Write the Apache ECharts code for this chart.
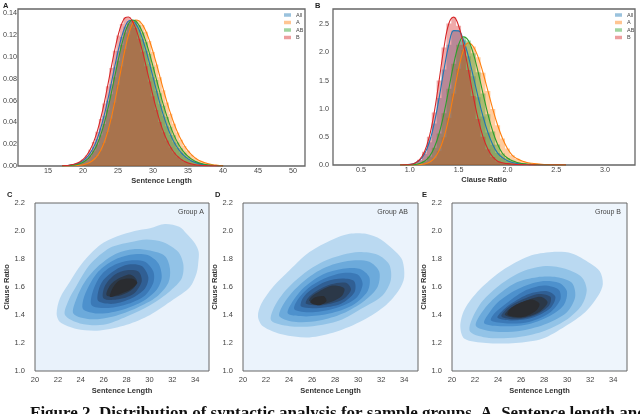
<!DOCTYPE html>
<html>
<head>
<meta charset="utf-8">
<script src="https://cdn.jsdelivr.net/npm/echarts@6/dist/echarts.min.js"></script>
<style>
    html, body { margin: 0; background: #fff; }
    #chart { width: 640px; height: 414px; }
</style>
</head>
<body>
<div id="chart"></div>
<script>
// groups and their colours
const groups = ['All', 'A', 'AB', 'B'];
const groupColors = ['#1f77b4', '#ff7f0e', '#2ca02c', '#d62728'];

// panel A: sentence length density (bin centres, step 0.5)
const lengthBins = [17, 17.5, 18, 18.5, 19, 19.5, 20, 20.5, 21, 21.5, 22, 22.5, 23, 23.5, 24, 24.5,
    25, 25.5, 26, 26.5, 27, 27.5, 28, 28.5, 29, 29.5, 30, 30.5, 31, 31.5, 32, 32.5, 33, 33.5,
    34, 34.5, 35, 35.5, 36, 36.5, 37, 37.5, 38, 38.5, 39, 39.5, 40];
const lengthAll = [.0002, .0004, .0007, .0011, .0018, .0030, .0049, .0077, .0117, .0172, .0247, .0344,
    .0461, .0599, .0750, .0906, .1055, .1183, .1278, .1331, .1337, .1308, .1249, .1163, .1057, .0938,
    .0813, .0687, .0567, .0460, .0365, .0285, .0218, .0165, .0123, .0090, .0065, .0046, .0032, .0022,
    .0015, .0010, .0007, .0005, .0003, .0002, .0001];
const lengthA = [0, .0001, .0001, .0002, .0004, .0007, .0012, .0021, .0035, .0057, .0091, .0142,
    .0213, .0312, .0435, .0582, .0745, .0914, .1073, .1206, .1298, .1339, .1331, .1294, .1231, .1146,
    .1045, .0932, .0813, .0694, .0582, .0480, .0388, .0308, .0240, .0184, .0139, .0103, .0075, .0054,
    .0038, .0027, .0018, .0012, .0008, .0005, .0003];
const lengthAB = [.0001, .0002, .0004, .0007, .0012, .0021, .0035, .0056, .0089, .0135, .0198, .0281,
    .0386, .0513, .0659, .0813, .0966, .1109, .1225, .1305, .1339, .1330, .1290, .1225, .1135, .1029,
    .0910, .0788, .0667, .0553, .0450, .0359, .0281, .0216, .0163, .0121, .0088, .0063, .0044, .0030,
    .0020, .0013, .0009, .0006, .0004, .0002, .0001];
const lengthB = [.0002, .0004, .0007, .0013, .0022, .0037, .0060, .0096, .0148, .0219, .0313, .0432,
    .0573, .0732, .0898, .1057, .1198, .1302, .1360, .1367, .1333, .1265, .1167, .1048, .0914, .0776,
    .0640, .0514, .0403, .0310, .0233, .0172, .0124, .0088, .0061, .0042, .0028, .0018, .0012, .0008,
    .0005, .0003, .0002, .0001, .0001, 0, 0];

// panel B: clause ratio density (bin centres, step 0.05)
const ratioBins = [0.90, 0.95, 1.00, 1.05, 1.10, 1.15, 1.20, 1.25, 1.30, 1.35, 1.40, 1.45, 1.50, 1.55,
    1.60, 1.65, 1.70, 1.75, 1.80, 1.85, 1.90, 1.95, 2.00, 2.05, 2.10, 2.15, 2.20, 2.25, 2.30, 2.35,
    2.40, 2.45, 2.50, 2.55, 2.60];
const ratioAll = [.001, .003, .011, .032, .084, .196, .404, .738, 1.189, 1.695, 2.137, 2.386, 2.382, 2.215,
    1.930, 1.574, 1.203, .861, .577, .361, .212, .130, .075, .045, .027, .016, .010, .006, .004, .002,
    .001, .001, 0, 0, 0];
const ratioA = [0, 0, .001, .002, .006, .018, .048, .118, .255, .491, .837, 1.271, 1.711, 2.044,
    2.170, 2.103, 1.915, 1.638, 1.316, .993, .705, .469, .293, .173, .110, .070, .045, .030, .020, .013,
    .008, .005, .003, .002, .001];
const ratioAB = [0, .001, .003, .009, .026, .066, .149, .305, .559, .917, 1.354, 1.797, 2.136, 2.278,
    2.209, 1.983, 1.648, 1.268, .903, .595, .363, .205, .125, .075, .045, .027, .016, .010, .006, .004,
    .002, .001, .001, 0, 0];
const ratioB = [0, .003, .010, .033, .095, .235, .503, .934, 1.499, 2.086, 2.512, 2.625, 2.472, 2.133,
    1.688, 1.226, .817, .500, .280, .144, .068, .040, .025, .016, .010, .006, .004, .002, .001, 0,
    0, 0, 0, 0, 0];

// panels C-E: density contour levels (outer -> inner), [sentence length, clause ratio]
const contourGroupA = [
    [[21.89, 1.41], [22.18, 1.35], [23.64, 1.30], [25.68, 1.29], [28.01, 1.33], [30.05, 1.40], [32.08, 1.51],
        [33.54, 1.60], [34.12, 1.70], [34.27, 1.78], [34.3, 1.85], [33.98, 1.91], [33.25, 1.98], [32.6, 2.03],
        [31.36, 2.05], [30.05, 2.02], [28.7, 2.0], [27.13, 1.96], [25.68, 1.90], [24.22, 1.78], [23.06, 1.64], [22.18, 1.52]],
    [[22.62, 1.40], [23.93, 1.34], [25.97, 1.33], [28.01, 1.39], [30.05, 1.47], [31.79, 1.57], [32.81, 1.66],
        [32.96, 1.76], [32.52, 1.85], [31.21, 1.92], [29.76, 1.94], [28.3, 1.92], [26.55, 1.88], [24.8, 1.76],
        [23.64, 1.61], [22.91, 1.50]],
    [[23.35, 1.41], [24.8, 1.37], [26.84, 1.39], [28.88, 1.45], [30.63, 1.53], [31.65, 1.63], [31.79, 1.73],
        [31.36, 1.82], [30.05, 1.86], [28.59, 1.87], [27.13, 1.84], [25.68, 1.76], [24.37, 1.64], [23.64, 1.52]],
    [[24.22, 1.44], [25.68, 1.41], [27.72, 1.44], [29.46, 1.50], [30.63, 1.58], [31.07, 1.67], [30.77, 1.77],
        [29.76, 1.83], [28.3, 1.83], [26.84, 1.79], [25.53, 1.71], [24.66, 1.60], [24.22, 1.51]],
    [[24.95, 1.47], [26.41, 1.45], [28.15, 1.48], [29.61, 1.54], [30.34, 1.63], [30.34, 1.71], [29.61, 1.78],
        [28.3, 1.79], [26.99, 1.76], [25.82, 1.69], [25.1, 1.58]],
    [[25.53, 1.50], [26.84, 1.48], [28.44, 1.52], [29.61, 1.59], [29.9, 1.67], [29.32, 1.75], [28.15, 1.76],
        [26.99, 1.72], [25.97, 1.65], [25.53, 1.57]],
    [[25.97, 1.52], [27.13, 1.51], [28.59, 1.55], [29.32, 1.64], [29.03, 1.71], [28.01, 1.72], [26.99, 1.69],
        [26.12, 1.61]],
    [[26.26, 1.54], [27.43, 1.54], [28.59, 1.59], [28.88, 1.65], [28.3, 1.69], [27.28, 1.66], [26.55, 1.61]],
    [[26.55, 1.53], [27.43, 1.55], [28.3, 1.58], [28.94, 1.63], [28.44, 1.66], [27.43, 1.65], [26.84, 1.60]]
];
const contourGroupAB = [
    [[21.3, 1.39], [21.73, 1.32], [23.46, 1.26], [25.77, 1.24], [28.08, 1.28], [30.39, 1.36], [32.41, 1.47],
        [33.56, 1.58], [34.0, 1.67], [33.85, 1.79], [33.28, 1.85], [31.98, 1.94], [30.68, 1.98], [29.24, 1.98],
        [27.79, 1.94], [25.77, 1.85], [24.04, 1.72], [22.6, 1.60], [21.59, 1.48]],
    [[22.45, 1.36], [24.04, 1.32], [26.06, 1.32], [28.37, 1.36], [30.39, 1.45], [32.12, 1.54], [32.84, 1.65],
        [32.7, 1.76], [31.69, 1.83], [30.1, 1.85], [28.66, 1.83], [26.93, 1.78], [25.19, 1.69], [23.75, 1.58],
        [22.74, 1.46]],
    [[23.17, 1.39], [24.62, 1.35], [26.64, 1.36], [28.66, 1.41], [30.53, 1.50], [31.69, 1.60], [31.83, 1.71],
        [30.97, 1.78], [29.52, 1.79], [27.79, 1.76], [26.06, 1.69], [24.47, 1.58], [23.46, 1.47]],
    [[23.9, 1.41], [25.48, 1.39], [27.5, 1.41], [29.52, 1.47], [30.82, 1.57], [30.97, 1.67], [30.1, 1.73],
        [28.66, 1.73], [26.93, 1.69], [25.34, 1.60], [24.33, 1.50]],
    [[24.47, 1.44], [26.06, 1.42], [28.08, 1.45], [29.81, 1.52], [30.39, 1.62], [29.96, 1.69], [28.66, 1.70],
        [27.07, 1.66], [25.63, 1.59], [24.76, 1.51]],
    [[25.05, 1.46], [26.64, 1.45], [28.51, 1.48], [29.67, 1.56], [29.67, 1.64], [28.66, 1.66], [27.22, 1.64],
        [25.92, 1.58], [25.19, 1.52]],
    [[25.48, 1.48], [26.93, 1.47], [28.66, 1.51], [29.38, 1.58], [28.95, 1.63], [27.65, 1.62], [26.35, 1.57],
        [25.63, 1.52]],
    [[25.77, 1.50], [27.07, 1.48], [28.51, 1.53], [28.8, 1.59], [27.79, 1.61], [26.64, 1.57], [25.92, 1.53]],
    [[25.85, 1.49], [26.64, 1.47], [27.25, 1.50], [27.0, 1.535], [26.21, 1.525]]
];
const contourGroupB = [
    [[20.72, 1.32], [21.09, 1.23], [22.95, 1.20], [25.54, 1.20], [27.83, 1.23], [29.84, 1.32], [31.56, 1.42],
        [32.71, 1.54], [33.1, 1.62], [32.85, 1.71], [31.99, 1.77], [30.41, 1.84], [28.69, 1.85], [26.68, 1.82],
        [24.39, 1.72], [22.38, 1.58], [21.09, 1.44]],
    [[21.52, 1.29], [22.95, 1.24], [25.54, 1.24], [27.83, 1.28], [29.84, 1.36], [31.27, 1.47], [31.7, 1.58],
        [31.27, 1.67], [29.84, 1.73], [28.12, 1.75], [26.11, 1.71], [24.1, 1.61], [22.38, 1.47]],
    [[22.09, 1.32], [23.82, 1.28], [26.11, 1.29], [28.26, 1.34], [29.98, 1.42], [30.7, 1.53], [30.41, 1.63],
        [29.12, 1.67], [27.4, 1.67], [25.54, 1.63], [23.67, 1.52], [22.52, 1.41]],
    [[22.81, 1.34], [24.39, 1.32], [26.4, 1.33], [28.4, 1.39], [29.7, 1.47], [29.98, 1.57], [29.27, 1.63],
        [27.69, 1.64], [25.82, 1.59], [24.1, 1.50], [23.1, 1.40]],
    [[23.39, 1.36], [24.82, 1.34], [26.68, 1.35], [28.55, 1.42], [29.41, 1.51], [29.27, 1.58], [27.98, 1.61],
        [26.25, 1.57], [24.68, 1.48], [23.67, 1.41]],
    [[23.96, 1.38], [25.25, 1.36], [26.97, 1.38], [28.55, 1.45], [28.98, 1.53], [28.26, 1.57], [26.68, 1.55],
        [25.11, 1.48], [24.25, 1.42]],
    [[24.3, 1.39], [25.68, 1.37], [27.26, 1.40], [28.45, 1.47], [28.55, 1.53], [27.54, 1.55], [26.11, 1.51],
        [24.82, 1.45]],
    [[24.6, 1.40], [26.0, 1.38], [27.54, 1.42], [28.3, 1.49], [27.7, 1.53], [26.35, 1.50], [25.1, 1.45]],
    [[24.85, 1.40], [26.11, 1.385], [27.3, 1.43], [27.6, 1.48], [26.9, 1.51], [25.75, 1.48], [25.0, 1.44]]
];
const contourColors = ['#bad9f1', '#92c3e7', '#6caadb', '#4d91cd', '#3b79b7', '#305f94', '#2c4a6f', '#2b3848', '#2a2c30'];

// tick values
const lengthTicks = [15, 20, 25, 30, 35, 40, 45, 50];
const ratioTicks = [0.5, 1.0, 1.5, 2.0, 2.5, 3.0];
const lengthDensityTicks = [0, 0.02, 0.04, 0.06, 0.08, 0.10, 0.12, 0.14];
const ratioDensityTicks = [0, 0.5, 1.0, 1.5, 2.0, 2.5];
const jointLengthTicks = [20, 22, 24, 26, 28, 30, 32, 34];
const jointRatioTicks = [1.0, 1.2, 1.4, 1.6, 1.8, 2.0, 2.2];

const FONT = 'Liberation Sans';
const chart = echarts.init(document.getElementById('chart'));

function valueAxis(gridIndex, min, max, ticks, digits, fontSize, margin, name, nameGap) {
    return {
        type: 'value', gridIndex, min, max,
        axisLine: {show: false},
        axisTick: {show: false},
        splitLine: {show: false},
        axisLabel: {
            customValues: ticks, fontSize, margin, color: '#444', fontFamily: FONT,
            formatter: v => v.toFixed(digits)
        },
        name, nameLocation: 'middle', nameGap,
        nameTextStyle: {fontSize: 7.5, fontWeight: 'bold', color: '#333', fontFamily: FONT}
    };
}

function distSeries(axis, bins, groupValues) {
    const out = [];
    groupValues.forEach((vals, i) => {
        const data = bins.map((x, k) => [x, vals[k]]);
        out.push({
            type: 'line', name: groups[i], xAxisIndex: axis, yAxisIndex: axis, data,
            step: 'middle', symbol: 'none', color: groupColors[i], silent: true,
            lineStyle: {opacity: 0},
            areaStyle: {color: groupColors[i], opacity: 0.4}
        });
        out.push({
            type: 'line', name: groups[i], xAxisIndex: axis, yAxisIndex: axis, data,
            smooth: 0.4, symbol: 'none', color: groupColors[i], silent: true,
            lineStyle: {width: 1.1, color: groupColors[i]}
        });
    });
    return out;
}

function contourSeries(axis, levels) {
    return {
        type: 'custom', xAxisIndex: axis, yAxisIndex: axis, clip: true, silent: true,
        data: levels.map(poly => poly[0]),
        renderItem: (params, api) => {
            const poly = levels[params.dataIndex];
            return {
                type: 'polygon',
                shape: {points: poly.map(p => api.coord(p)), smooth: 0.3},
                style: {fill: contourColors[params.dataIndex]}
            };
        }
    };
}

const frame = {show: true, borderColor: '#666', borderWidth: 1, containLabel: false};
const jointBg = ['#e9f2fb', '#ebf3fc', '#eef5fc'];

const option = {
    animation: false,
    grid: [
        {...frame, left: 17, top: 9, width: 288, height: 157, borderWidth: 1.3},
        {...frame, left: 333, top: 9, width: 302, height: 156, borderWidth: 1.3},
        {...frame, left: 35, top: 203, width: 174, height: 168, backgroundColor: jointBg[0]},
        {...frame, left: 243, top: 203, width: 175, height: 168, backgroundColor: jointBg[1]},
        {...frame, left: 452, top: 203, width: 175, height: 168, backgroundColor: jointBg[2]}
    ],
    xAxis: [
        valueAxis(0, 10.7, 51.7, lengthTicks, 0, 7.2, 2, 'Sentence Length', 11),
        valueAxis(1, 0.213, 3.307, ratioTicks, 1, 7.2, 2, 'Clause Ratio', 11),
        valueAxis(2, 20, 35.2, jointLengthTicks, 0, 7.5, 5, 'Sentence Length', 16),
        valueAxis(3, 20, 35.2, jointLengthTicks, 0, 7.5, 5, 'Sentence Length', 16),
        valueAxis(4, 20, 35.2, jointLengthTicks, 0, 7.5, 5, 'Sentence Length', 16)
    ],
    yAxis: [
        valueAxis(0, 0, 0.144, lengthDensityTicks, 2, 7.2, 1, '', 0),
        valueAxis(1, 0, 2.77, ratioDensityTicks, 1, 7.2, 4, '', 0),
        valueAxis(2, 1.0, 2.2, jointRatioTicks, 1, 7.5, 10, 'Clause Ratio', 16),
        valueAxis(3, 1.0, 2.2, jointRatioTicks, 1, 7.5, 10, 'Clause Ratio', 16),
        valueAxis(4, 1.0, 2.2, jointRatioTicks, 1, 7.5, 10, 'Clause Ratio', 16)
    ],
    legend: [284, 615].map(left => ({
        left, top: 12, orient: 'vertical', icon: 'rect', selectedMode: false,
        itemWidth: 7, itemHeight: 3.5, itemGap: 1.5, padding: 0,
        textStyle: {fontSize: 5.5, lineHeight: 5, color: '#444', fontFamily: FONT},
        data: groups.map((g, i) => ({name: g, itemStyle: {color: groupColors[i], opacity: 0.45}}))
    })),
    graphic: [
        ...[['A', 3, 2], ['B', 315, 2], ['C', 7, 191], ['D', 215, 191], ['E', 422, 191]].map(([t, x, y]) => ({
            type: 'text', left: x, top: y,
            style: {text: t, font: `bold 7.5px "${FONT}"`, fill: '#222'}
        })),
        ...[['Group A', 204], ['Group AB', 408], ['Group B', 621]].map(([t, right]) => ({
            type: 'text', right: 640 - right, top: 209,
            style: {text: t, font: `7px "${FONT}"`, fill: '#444'}
        })),
        {
            type: 'text', left: 30, top: 405,
            style: {
                text: 'Figure 2. Distribution of syntactic analysis for sample groups. A. Sentence length and',
                font: 'bold 17px "Liberation Serif"', fill: '#111'
            }
        }
    ],
    series: [
        ...distSeries(0, lengthBins, [lengthAll, lengthA, lengthAB, lengthB]),
        ...distSeries(1, ratioBins, [ratioAll, ratioA, ratioAB, ratioB]),
        contourSeries(2, contourGroupA),
        contourSeries(3, contourGroupAB),
        contourSeries(4, contourGroupB)
    ]
};

chart.setOption(option);
</script>
</body>
</html>
